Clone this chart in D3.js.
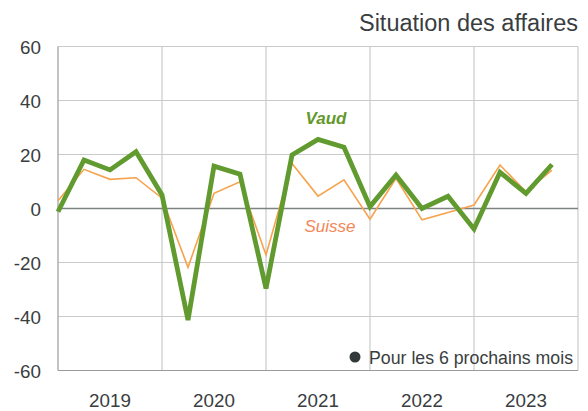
<!DOCTYPE html>
<html>
<head>
<meta charset="utf-8">
<script src="https://cdn.jsdelivr.net/npm/d3@7"></script>
<style>
  html, body { margin: 0; padding: 0; background: #fff; }
  svg { display: block; }
  text { font-family: "Liberation Sans", Arial, sans-serif; }
</style>
</head>
<body>
<svg id="chart" width="588" height="411"></svg>
<script>
// Quarterly data, 2019 Q1 .. 2023 Q4 (20 points)
const years = ["2019", "2020", "2021", "2022", "2023"];
const vaud = [-1.2, 18, 14.3, 21, 5, -41.3, 15.7, 12.7, -29.6, 19.8, 25.6, 22.7, 0.7, 12.4, 0, 4.5, -7.6, 13.4, 5.6, 16.3];
const suisse = [2.9, 14.5, 10.8, 11.4, 3.8, -21.8, 5.6, 9.9, -17.2, 16.7, 4.6, 10.6, -4.0, 11.2, -4.2, -1.5, 1.3, 16.1, 6.2, 14.2];
const yTicks = [-60, -40, -20, 0, 20, 40, 60];
const title = "Situation des affaires";
const legendText = "Pour les 6 prochains mois";

const svg = d3.select("#chart");
const m = { left: 58, right: 578, top: 46.5, bottom: 370.5 };

const x = d3.scaleLinear().domain([0, 20]).range([m.left, m.right]);
const y = d3.scaleLinear().domain([-60, 60]).range([m.bottom, m.top]);

// horizontal gridlines
svg.append("g").selectAll("line").data(yTicks.filter(d => d !== 0)).join("line")
  .attr("x1", m.left).attr("x2", m.right)
  .attr("y1", d => y(d)).attr("y2", d => y(d))
  .attr("stroke", "#c9cbcb").attr("stroke-width", 1.2);

// vertical gridlines (year boundaries + borders)
svg.append("g").selectAll("line").data(d3.range(0, 21, 4)).join("line")
  .attr("x1", d => x(d)).attr("x2", d => x(d))
  .attr("y1", m.top).attr("y2", m.bottom)
  .attr("stroke", d => (d === 0 ? "#9a9c9c" : "#c9cbcb")).attr("stroke-width", 1.2);

// bottom border
svg.append("line").attr("x1", m.left).attr("x2", m.right)
  .attr("y1", m.bottom).attr("y2", m.bottom)
  .attr("stroke", "#9a9c9c").attr("stroke-width", 1.2);

// zero line
svg.append("line").attr("x1", m.left).attr("x2", m.right)
  .attr("y1", y(0)).attr("y2", y(0))
  .attr("stroke", "#7d8282").attr("stroke-width", 1.6);

// y tick labels
svg.append("g").selectAll("text").data(yTicks).join("text")
  .attr("x", 41).attr("y", d => y(d) + 7.5)
  .attr("text-anchor", "end")
  .attr("font-size", 18.8).attr("fill", "#3a3d40")
  .text(d => d);

// year labels
svg.append("g").selectAll("text").data(years).join("text")
  .attr("x", (d, i) => x(i * 4 + 2)).attr("y", 406.5)
  .attr("text-anchor", "middle")
  .attr("font-size", 18.8).attr("fill", "#3a3d40")
  .text(d => d);

const line = d3.line().x((d, i) => x(i)).y(d => y(d));

svg.append("path").datum(suisse).attr("d", line)
  .attr("fill", "none").attr("stroke", "#f7a24c").attr("stroke-width", 1.6)
  .attr("stroke-linejoin", "miter");

svg.append("path").datum(vaud).attr("d", line)
  .attr("fill", "none").attr("stroke", "#619a2e").attr("stroke-width", 4.8)
  .attr("stroke-linejoin", "miter");

// series labels
svg.append("text").attr("x", 326).attr("y", 124)
  .attr("text-anchor", "middle").attr("font-size", 17)
  .attr("font-weight", "bold").attr("font-style", "italic")
  .attr("fill", "#64982c").text("Vaud");

svg.append("text").attr("x", 330).attr("y", 232)
  .attr("text-anchor", "middle").attr("font-size", 17)
  .attr("font-style", "italic")
  .attr("fill", "#f2875a").text("Suisse");

// title
svg.append("text").attr("x", 578).attr("y", 30.5)
  .attr("text-anchor", "end").attr("font-size", 23.5)
  .attr("fill", "#3a3d40").text(title);

// legend
svg.append("circle").attr("cx", 355).attr("cy", 357).attr("r", 5.5).attr("fill", "#33383b");
svg.append("text").attr("x", 369).attr("y", 364)
  .attr("font-size", 18.8).attr("fill", "#3a3d40")
  .attr("textLength", 204).attr("lengthAdjust", "spacingAndGlyphs")
  .text(legendText);
</script>
</body>
</html>
